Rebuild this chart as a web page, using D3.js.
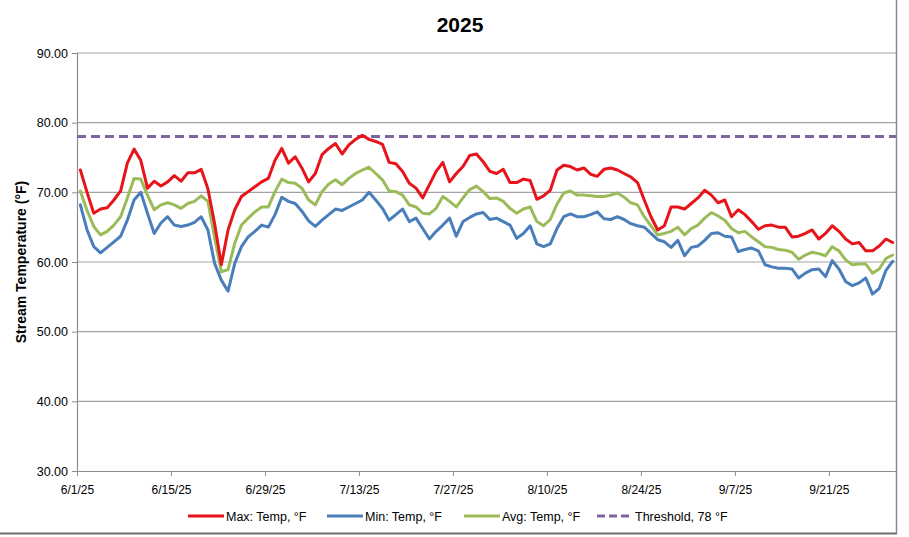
<!DOCTYPE html>
<html>
<head>
<meta charset="utf-8">
<script src="https://cdn.jsdelivr.net/npm/d3@7"></script>
<style>
  html, body { margin: 0; padding: 0; background: #fff; }
  svg { display: block; font-family: "Liberation Sans", Arial, sans-serif; }
</style>
</head>
<body>
<div id="chart"></div>
<script>
// ---------------- DATA ----------------
const title = "2025";
const startDate = new Date(2025, 5, 1);   // 6/1/25, one reading per day
const maxTemp = [73.2,70.0,67.0,67.6,67.8,68.9,70.2,74.2,76.2,74.6,70.6,71.6,70.9,71.5,72.4,71.6,72.8,72.8,73.3,70.5,
  65.5,59.6,64.6,67.5,69.4,70.1,70.8,71.5,72.0,74.6,76.3,74.2,75.1,73.5,71.5,72.7,75.4,76.3,77.0,75.5,
  76.8,77.6,78.2,77.6,77.3,76.9,74.3,74.1,73.0,71.3,70.6,69.2,71.1,73.0,74.3,71.5,72.7,73.7,75.3,75.5,
  74.4,73.0,72.7,73.3,71.4,71.4,71.9,71.7,69.0,69.5,70.3,73.2,73.9,73.7,73.2,73.5,72.6,72.3,73.3,73.5,
  73.2,72.7,72.2,71.4,68.9,66.5,64.6,65.2,67.9,67.9,67.6,68.4,69.2,70.3,69.6,68.5,68.9,66.5,67.5,66.8,
  65.8,64.7,65.2,65.3,65.0,65.0,63.6,63.7,64.1,64.6,63.3,64.1,65.2,64.4,63.3,62.6,62.8,61.6,61.6,62.3,
  63.3,62.8];
const minTemp = [68.2,64.6,62.2,61.3,62.1,62.9,63.7,66.0,68.9,70.0,67.0,64.1,65.6,66.5,65.3,65.1,65.3,65.7,66.5,64.6,
  59.8,57.4,55.8,59.8,62.2,63.6,64.4,65.3,65.0,66.8,69.3,68.7,68.4,67.3,65.9,65.1,66.0,66.8,67.6,67.4,
  67.9,68.4,68.9,70.0,68.9,67.7,66.0,66.8,67.6,65.8,66.3,64.8,63.3,64.4,65.3,66.3,63.7,65.8,66.4,66.9,
  67.1,66.1,66.3,65.8,65.3,63.4,64.1,65.2,62.6,62.2,62.6,64.8,66.5,66.9,66.5,66.5,66.8,67.2,66.2,66.1,
  66.5,66.1,65.5,65.2,65.0,64.1,63.2,62.9,62.1,63.1,60.9,62.1,62.3,63.1,64.1,64.2,63.7,63.6,61.5,61.8,
  62.0,61.6,59.6,59.3,59.1,59.1,59.0,57.7,58.4,58.9,59.0,57.9,60.2,59.0,57.2,56.6,57.0,57.7,55.4,56.2,
  58.8,60.1];
const avgTemp = [70.2,67.4,65.1,63.9,64.4,65.3,66.5,69.2,72.0,71.9,69.6,67.5,68.2,68.5,68.2,67.7,68.4,68.7,69.5,68.7,
  63.5,58.6,58.9,62.7,65.3,66.3,67.2,67.9,67.9,70.1,71.9,71.4,71.3,70.6,68.9,68.2,70.1,71.2,71.8,71.1,
  72.0,72.7,73.2,73.6,72.7,71.8,70.2,70.1,69.6,68.2,67.9,67.0,66.9,67.7,69.4,68.7,67.9,69.2,70.4,70.9,
  70.1,69.1,69.2,68.7,67.7,67.0,67.6,67.9,65.8,65.2,66.1,68.3,69.9,70.2,69.6,69.6,69.5,69.4,69.4,69.6,
  69.9,69.3,68.5,68.2,66.5,65.2,63.9,64.1,64.4,65.0,63.9,64.8,65.3,66.3,67.1,66.6,66.0,64.8,64.2,64.4,
  63.6,62.9,62.2,62.1,61.8,61.7,61.4,60.4,61.0,61.4,61.2,60.9,62.2,61.6,60.3,59.6,59.7,59.7,58.4,59.0,
  60.5,61.0];
const threshold = 78;
const seriesNames = ["Max: Temp, °F", "Min: Temp, °F", "Avg: Temp, °F", "Threshold, 78 °F"];
const xTickLabels = ["6/1/25","6/15/25","6/29/25","7/13/25","7/27/25","8/10/25","8/24/25","9/7/25","9/21/25"];
const yTicks = [30, 40, 50, 60, 70, 80, 90];
const yTitle = "Stream Temperature (°F)";

// ---------------- CHART ----------------
const W = 909, H = 537;
const m = { left: 77, right: 896, top: 53, bottom: 471 };
const colors = { max: "#E8141B", min: "#4A7EBB", avg: "#9BBB59", thr: "#8064A2" };

const svg = d3.select("#chart").append("svg").attr("width", W).attr("height", H);
svg.append("rect").attr("width", W).attr("height", H).attr("fill", "#fff");

const parse = d3.timeParse("%m/%d/%y");
const x = d3.scaleTime()
  .domain([startDate, new Date(2025, 9, 1)])
  .range([m.left, m.right]);
const y = d3.scaleLinear().domain([30, 90]).range([m.bottom, m.top]);

const dayDate = i => new Date(2025, 5, 1 + i, 12);

// gridlines
svg.append("g").selectAll("line").data(yTicks.filter(v => v > 30)).join("line")
  .attr("x1", m.left).attr("x2", m.right)
  .attr("y1", d => y(d)).attr("y2", d => y(d))
  .attr("stroke", "#a3a3a3").attr("stroke-width", 1.2);

// y axis
const yAxis = d3.axisLeft(y).tickValues(yTicks).tickFormat(d3.format(".2f")).tickSize(5).tickPadding(4);
const gy = svg.append("g").attr("transform", `translate(${m.left},0)`).call(yAxis);
gy.select(".domain").attr("stroke", "#8c8c8c").attr("stroke-width", 1.2);
gy.selectAll(".tick line").attr("stroke", "#8c8c8c");
gy.selectAll("text").attr("font-size", 12.5).attr("fill", "#000")
  .attr("font-family", "Liberation Sans, Arial, sans-serif");

// x axis
const xAxis = d3.axisBottom(x).tickValues(xTickLabels.map(parse))
  .tickFormat(d3.timeFormat("%-m/%-d/%y")).tickSize(5).tickPadding(9);
const gx = svg.append("g").attr("transform", `translate(0,${m.bottom})`).call(xAxis);
gx.select(".domain").attr("stroke", "#8c8c8c").attr("stroke-width", 1.2).attr("d", `M${m.left},0.5H${m.right}`);
gx.selectAll(".tick line").attr("stroke", "#8c8c8c");
gx.selectAll("text").attr("font-size", 12).attr("fill", "#000")
  .attr("font-family", "Liberation Sans, Arial, sans-serif");

// clip
svg.append("clipPath").attr("id", "plotclip").append("rect")
  .attr("x", m.left).attr("y", m.top - 5).attr("width", m.right - m.left).attr("height", m.bottom - m.top + 5);

const line = d3.line().x((d, i) => x(dayDate(i))).y(d => y(d));
const plot = svg.append("g").attr("clip-path", "url(#plotclip)");

// threshold
plot.append("line")
  .attr("x1", m.left).attr("x2", m.right)
  .attr("y1", y(threshold)).attr("y2", y(threshold))
  .attr("stroke", colors.thr).attr("stroke-width", 3).attr("stroke-dasharray", "9,5");

[[avgTemp, colors.avg], [minTemp, colors.min], [maxTemp, colors.max]].forEach(([data, c]) => {
  plot.append("path").datum(data).attr("d", line)
    .attr("fill", "none").attr("stroke", c).attr("stroke-width", 3)
    .attr("stroke-linejoin", "round").attr("stroke-linecap", "round");
});

// title
svg.append("text").attr("x", 460).attr("y", 32).attr("text-anchor", "middle")
  .attr("font-size", 21).attr("font-weight", "bold").text(title);

// y title
svg.append("text").attr("transform", `translate(26,${(m.top + m.bottom) / 2}) rotate(-90)`)
  .attr("text-anchor", "middle").attr("font-size", 14).attr("font-weight", "bold").text(yTitle);

// legend
const legendItems = [
  { name: seriesNames[0], color: colors.max, dash: null, x: 188 },
  { name: seriesNames[1], color: colors.min, dash: null, x: 327 },
  { name: seriesNames[2], color: colors.avg, dash: null, x: 464 },
  { name: seriesNames[3], color: colors.thr, dash: "8,4", x: 597 }
];
const lg = svg.append("g");
legendItems.forEach(it => {
  lg.append("line").attr("x1", it.x).attr("x2", it.x + 36).attr("y1", 516).attr("y2", 516)
    .attr("stroke", it.color).attr("stroke-width", 3).attr("stroke-dasharray", it.dash);
  lg.append("text").attr("x", it.x + 38).attr("y", 520.5).attr("font-size", 12.5).text(it.name);
});

// outer frame (right and bottom edges visible)
svg.append("line").attr("x1", 896.5).attr("x2", 896.5).attr("y1", 0).attr("y2", 533.5)
  .attr("stroke", "#8a8a8a").attr("stroke-width", 1.5);
svg.append("line").attr("x1", 0).attr("x2", 897).attr("y1", 533.5).attr("y2", 533.5)
  .attr("stroke", "#6e6e6e").attr("stroke-width", 2);
</script>
</body>
</html>
